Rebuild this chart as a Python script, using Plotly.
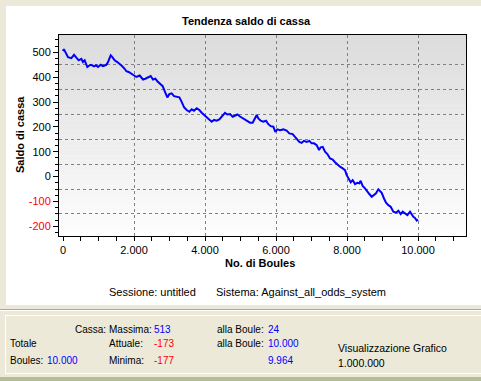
import plotly.graph_objects as go

# ---------------- data ----------------
boules = [0, 24, 141, 235, 310, 375, 440, 516, 563, 610, 685, 752, 798, 873, 930, 986, 1061, 1127,
          1220, 1268, 1315, 1343, 1390, 1455, 1530, 1596, 1662, 1737, 1784, 1850, 1925, 2000, 2066,
          2160, 2254, 2319, 2394, 2470, 2535, 2601, 2657, 2732, 2808, 2873, 2939, 2995, 3061, 3127,
          3202, 3277, 3343, 3409, 3484, 3559, 3625, 3690, 3766, 3841, 3907, 3972, 4047, 4122, 4188,
          4254, 4329, 4404, 4470, 4563, 4629, 4704, 4780, 4845, 4911, 4986, 5080, 5174, 5268, 5343,
          5409, 5456, 5502, 5569, 5643, 5718, 5784, 5850, 5925, 5981, 6037, 6113, 6206, 6300, 6375,
          6469, 6535, 6600, 6657, 6723, 6789, 6864, 6939, 7005, 7071, 7146, 7212, 7259, 7316, 7381,
          7447, 7522, 7597, 7663, 7728, 7803, 7879, 7944, 7991, 8038, 8104, 8160, 8226, 8291, 8348,
          8385, 8442, 8507, 8573, 8629, 8695, 8761, 8817, 8883, 8930, 8977, 9042, 9099, 9164, 9230,
          9305, 9380, 9446, 9512, 9568, 9634, 9700, 9775, 9822, 9869, 9915, 9964, 10000]
saldo = [505, 513, 481, 477, 490, 481, 468, 474, 461, 468, 441, 448, 450, 444, 448, 441, 450, 445,
         450, 461, 481, 488, 481, 468, 461, 454, 445, 434, 424, 421, 414, 407, 401,
         407, 391, 394, 401, 405, 391, 394, 384, 372, 364, 341, 319, 332, 335, 324,
         321, 319, 301, 279, 268, 261, 271, 265, 275, 268, 257, 248, 241, 228, 221,
         228, 225, 230, 241, 257, 250, 252, 241, 244, 250, 242, 234, 225, 217, 217,
         234, 248, 234, 225, 221, 225, 211, 203, 201, 180, 190, 187, 190, 185, 174,
         171, 160, 150, 140, 136, 144, 140, 144, 134, 134, 127, 107, 118, 120, 100,
         91, 73, 69, 58, 49, 40, 33, 26, 6, -7, -23, -14, -30, -25, -27,
         -17, -38, -47, -61, -70, -81, -74, -67, -51, -57, -65, -88, -105, -115, -121,
         -141, -145, -137, -151, -141, -148, -155, -141, -151, -162, -166, -177, -173]

y_tick_vals = [-200, -100, 0, 100, 200, 300, 400, 500]
y_grid_vals = [-150, -50, 50, 150, 250, 350, 450]
x_grid_vals = [2000, 4000, 6000, 8000, 10000]

titolo = "Tendenza saldo di cassa"
sessione = "untitled"
sistema = "Against_all_odds_system"
tot_boules = "10.000"
cassa_max, cassa_att, cassa_min = "513", "-173", "-177"
boule_max, boule_att, boule_min = "24", "10.000", "9.964"
visualizzazione = "1.000.000"

# ---------------- layout helpers ----------------
W, H = 481, 381
def px(x):
    return x / W
def py(y):
    return 1 - y / H

FONT = "Liberation Sans"
X_RANGE = [-113, 11352]
Y_RANGE = [-239, 570]

fig = go.Figure()
fig.add_trace(go.Scatter(x=boules, y=saldo, mode="lines",
                         line=dict(color="#0000FF", width=2), hoverinfo="skip",
                         showlegend=False))
# helper trace so that grid overlay axes exist
fig.add_trace(go.Scatter(x=[None], y=[None], xaxis="x2", yaxis="y2", showlegend=False,
                         hoverinfo="skip"))

ticktext = [f'<span style="color:#FF0000">{v}</span>' if v < 0 else str(v) for v in y_tick_vals]

shapes = []
# white panel
shapes.append(dict(type="rect", xref="paper", yref="paper", x0=px(6), x1=1.01, y0=py(305), y1=py(6),
                   fillcolor="#FFFFFF", line=dict(width=0), layer="below"))
# separator lines
shapes.append(dict(type="line", xref="paper", yref="paper", x0=0, x1=1, y0=py(309.5), y1=py(309.5),
                   line=dict(color="#ACA899", width=1), layer="below"))
shapes.append(dict(type="line", xref="paper", yref="paper", x0=0, x1=1, y0=py(310.5), y1=py(310.5),
                   line=dict(color="#FFFFFF", width=1), layer="below"))
# inner box (white etched)
shapes.append(dict(type="line", xref="paper", yref="paper", x0=px(5), x1=1, y0=py(315.5), y1=py(315.5),
                   line=dict(color="#FFFFFF", width=1), layer="below"))
shapes.append(dict(type="line", xref="paper", yref="paper", x0=px(5), x1=1, y0=py(373.5), y1=py(373.5),
                   line=dict(color="#FFFFFF", width=1), layer="below"))
shapes.append(dict(type="line", xref="paper", yref="paper", x0=px(5.5), x1=px(5.5), y0=py(315.5), y1=py(373.5),
                   line=dict(color="#FFFFFF", width=1), layer="below"))
# bottom green band
shapes.append(dict(type="rect", xref="paper", yref="paper", x0=0, x1=1, y0=0, y1=py(377),
                   fillcolor="#B4BE96", line=dict(width=0), layer="below"))
# gradient background of plot area
N = 40
for i in range(N):
    t = i / (N - 1)
    c = int(round(220 + (253 - 220) * t))
    shapes.append(dict(type="rect", xref="x domain", yref="y domain", x0=0, x1=1,
                       y0=1 - (i + 1) / N, y1=1 - i / N + 0.001,
                       fillcolor=f"rgb({c},{c},{c})", line=dict(width=0), layer="below"))

ann = []
def txt(x, y, s, color="#000000", size=10, bold=False, xanchor="left"):
    ann.append(dict(x=px(x), y=py(y), xref="paper", yref="paper", text=(f"<b>{s}</b>" if bold else s),
                    showarrow=False, xanchor=xanchor, yanchor="middle", borderpad=0,
                    font=dict(family=FONT, size=size, color=color)))

txt(246, 21, titolo, bold=True, xanchor="center", size=11)
txt(260, 263, "No. di Boules", bold=True, xanchor="center", size=11)
ann.append(dict(x=px(20), y=py(135), xref="paper", yref="paper", text="<b>Saldo di cassa</b>",
                showarrow=False, textangle=-90, xanchor="center", yanchor="middle",
                font=dict(family=FONT, size=11, color="#000000")))
txt(108, 292, f"Sessione: {sessione}", size=11)
txt(215, 292, f"Sistema: {sistema}", size=11)
txt(74, 329, "Cassa:")
txt(108, 329, "Massima:")
txt(153, 329, cassa_max, "#0000FF")
txt(9, 343, "Totale")
txt(108, 343, "Attuale:")
txt(153, 343, cassa_att, "#FF0000")
txt(9, 360, "Boules:")
txt(46, 360, tot_boules, "#0000FF")
txt(108, 360, "Minima:")
txt(153, 360, cassa_min, "#FF0000")
txt(216, 329, "alla Boule:")
txt(267, 329, boule_max, "#0000FF")
txt(216, 343, "alla Boule:")
txt(267, 343, boule_att, "#0000FF")
txt(267, 360, boule_min, "#0000FF")
txt(337, 348, "Visualizzazione Grafico", size=10.5)
txt(337, 363, visualizzazione, size=10.5)

fig.update_layout(
    width=W, height=H, margin=dict(l=0, r=0, t=0, b=0),
    paper_bgcolor="#ECE9D8", plot_bgcolor="rgba(0,0,0,0)",
    separators=",.",
    font=dict(family=FONT, size=11, color="#000000"),
    showlegend=False,
    shapes=shapes, annotations=ann,
    xaxis=dict(domain=[px(59), px(466)], range=X_RANGE, tick0=0, dtick=2000, tickformat=",d",
               showgrid=False, zeroline=False, showline=True, linecolor="#000000", linewidth=1,
               mirror=True, ticks="outside", ticklen=4, tickcolor="#000000",
               minor=dict(dtick=500, tick0=0, ticks="outside", ticklen=4, tickcolor="#000000", showgrid=False),
               tickfont=dict(family=FONT, size=11, color="#000000"), fixedrange=True),
    yaxis=dict(domain=[py(236), py(35)], range=Y_RANGE, tickmode="array", tickvals=y_tick_vals,
               ticktext=ticktext, showgrid=False, zeroline=False, showline=True, linecolor="#000000",
               linewidth=1, mirror=True, ticks="outside", ticklen=5, tickcolor="#000000",
               minor=dict(tickmode="linear", tick0=0, dtick=25, ticks="outside", ticklen=3,
                          tickcolor="#000000", showgrid=False),
               tickfont=dict(family=FONT, size=11, color="#000000"), fixedrange=True),
    xaxis2=dict(overlaying="x", anchor="y2", range=X_RANGE, tickmode="array", tickvals=x_grid_vals,
                showticklabels=False, ticks="", showline=False, zeroline=False, showgrid=True,
                gridcolor="#808080", gridwidth=1, griddash="3px,3px", fixedrange=True),
    yaxis2=dict(overlaying="y", anchor="x2", range=Y_RANGE, tickmode="array", tickvals=y_grid_vals,
                showticklabels=False, ticks="", showline=False, zeroline=False, showgrid=True,
                gridcolor="#808080", gridwidth=1, griddash="3px,3px", fixedrange=True),
)

fig.write_html("out.html", config={"displayModeBar": False},
               post_script="document.body.style.margin='0';document.body.style.overflow='hidden';")
